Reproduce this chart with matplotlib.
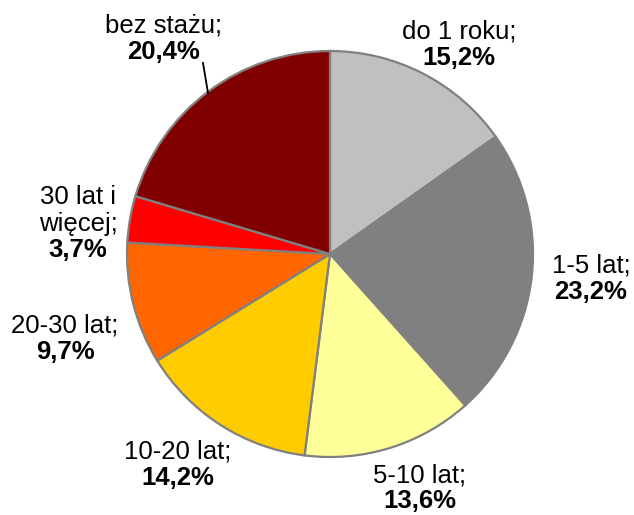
import matplotlib
matplotlib.use("Agg")
import matplotlib.pyplot as plt

W, H = 634, 515

categories = ["do 1 roku", "1-5 lat", "5-10 lat", "10-20 lat",
              "20-30 lat", "30 lat i więcej", "bez stażu"]
shares = [15.2, 23.2, 13.6, 14.2, 9.7, 3.7, 20.4]
colors = ["#C0C0C0", "#808080", "#FFFF99", "#FFCC00",
          "#FF6600", "#FF0000", "#800000"]

# label text lines (name part) and where they sit: center x, first baseline y (pixels from top)
label_lines = [
    ["do 1 roku;"],
    ["1-5 lat;"],
    ["5-10 lat;"],
    ["10-20 lat;"],
    ["20-30 lat;"],
    ["30 lat i", "więcej;"],
    ["bez stażu;"],
]
label_pos = [
    (459, 39),
    (591, 273),
    (420, 482),
    (178, 459),
    (65, 333),
    (78, 204),
    (164, 33),
]

LINE_H = 27
FS = 18.5


def fy(py):
    return H - py


def pct_text(v):
    return f"{v:.1f}%".replace(".", ",")


plt.rcParams["font.family"] = ["Liberation Sans", "DejaVu Sans"]

fig = plt.figure(figsize=(W / 100, H / 100), dpi=100)
ax = fig.add_axes([0, 0, 1, 1])

ax.pie(shares, colors=colors, startangle=90, counterclock=False,
       center=(330, fy(254)), radius=203,
       wedgeprops=dict(edgecolor="#808080", linewidth=1.6))

for lines, (cx, by), v in zip(label_lines, label_pos, shares):
    for i, line in enumerate(lines):
        ax.text(cx, fy(by + i * LINE_H), line, ha="center", va="baseline",
                fontsize=FS, color="black")
    ax.text(cx, fy(by + len(lines) * LINE_H - 1), pct_text(v), ha="center",
            va="baseline", fontsize=FS, fontweight="bold", color="black")

# leader line for "bez stażu"
ax.plot([203, 208], [fy(63), fy(93)], color="black", linewidth=1.3)

ax.set_xlim(0, W)
ax.set_ylim(0, H)
ax.set_aspect("equal")
ax.axis("off")

fig.savefig("out.png", dpi=100)
